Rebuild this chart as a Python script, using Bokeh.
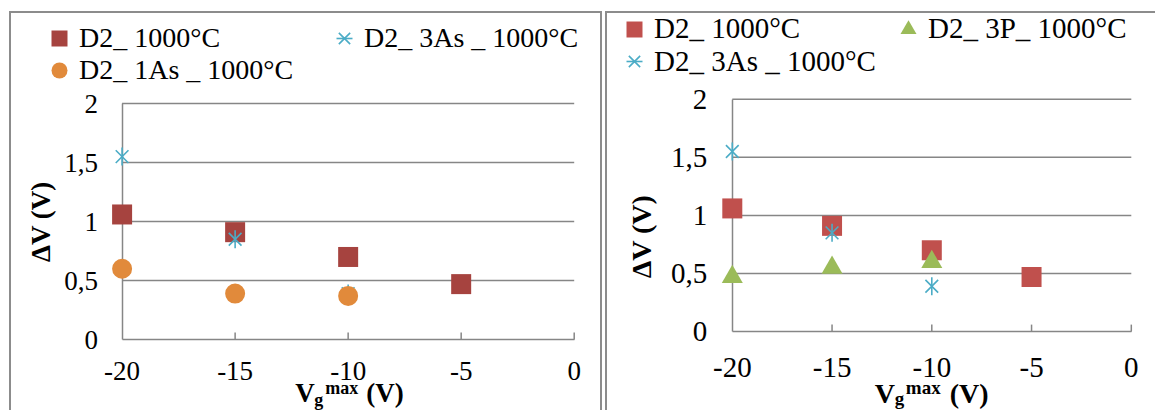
import math
from bokeh.plotting import figure
from bokeh.models import (LinearAxis, FixedTicker, Legend, LegendItem, Range1d, Spacer)
from bokeh.core.properties import value
from bokeh.layouts import row, column
from bokeh.embed import file_html
from bokeh.resources import INLINE

# ---------------- data ----------------
x_ticks = [-20, -15, -10, -5, 0]
x_tick_labels = ["-20", "-15", "-10", "-5", "0"]
y_ticks = [0, 0.5, 1, 1.5, 2]
y_tick_labels = ["0", "0,5", "1", "1,5", "2"]

vg_4 = [-20, -15, -10, -5]
vg_3 = [-20, -15, -10]

left_d2_1000 = [1.06, 0.91, 0.70, 0.47]
left_d2_3as = [1.55, 0.85, 0.39]
left_d2_1as = [0.60, 0.39, 0.37]

right_d2_1000 = [1.06, 0.91, 0.70, 0.47]
right_d2_3p = [0.47, 0.55, 0.60]
right_d2_3as = [1.55, 0.85, 0.39]

left_labels = ["D2_ 1000°C", "D2_ 3As _ 1000°C", "D2_ 1As _ 1000°C"]
right_labels = ["D2_ 1000°C", "D2_ 3P_ 1000°C", "D2_ 3As _ 1000°C"]
x_title_parts = ["V", "g", "max", "(V)"]
y_title = "ΔV (V)"

# ---------------- style ----------------
FONT = "Liberation Serif, Times New Roman, Times, serif"
GRID = "#868686"
BORDER = "#8c8c8c"
GLYPH = 40


def span_range(v0, v1, px0, px1, total):
    """Range whose values v0, v1 land on pixels px0, px1 of a frame `total` px long."""
    scale = (px1 - px0) / (v1 - v0)
    start = v0 - px0 / scale
    return Range1d(start, start + total / scale), scale


def make_panel(width, height, xpix, ypix, shadow, fs, xstand, ystand):
    # xpix: pixel (from left) of x=-20 and x=0 ; ypix: pixel (from bottom) of y=0 and y=2
    xr, _ = span_range(x_ticks[0], x_ticks[-1], xpix[0], xpix[1], width)
    yr, yscale = span_range(y_ticks[0], y_ticks[-1], ypix[0], ypix[1], height)
    p = figure(width=width, height=height, x_range=xr, y_range=yr,
               x_axis_type=None, y_axis_type=None,
               toolbar_location=None, output_backend="svg",
               min_border=0, min_border_left=0, min_border_right=0,
               min_border_top=0, min_border_bottom=0,
               outline_line_color=None,
               background_fill_alpha=0, border_fill_alpha=0)
    p.styles = {"box-shadow": shadow}

    # horizontal gridlines, from x=-20 to x=0
    n = len(y_ticks) - 1
    p.segment(x0=[x_ticks[0]] * n, x1=[x_ticks[-1]] * n, y0=y_ticks[1:], y1=y_ticks[1:],
              line_color=GRID, line_width=1.5)
    # inner tick marks on the x axis (7 px long)
    tick_len = 7 / yscale
    m = len(x_ticks) - 1
    p.segment(x0=x_ticks[1:], x1=x_ticks[1:], y0=[y_ticks[0]] * m,
              y1=[y_ticks[0] + tick_len] * m, line_color=GRID, line_width=1.5)

    axis_style = dict(axis_line_color=GRID, axis_line_width=1.5,
                      major_tick_in=0, major_tick_out=0, minor_tick_in=0, minor_tick_out=0)
    xa = LinearAxis(fixed_location=y_ticks[0], bounds=(x_ticks[0], x_ticks[-1]),
                    ticker=FixedTicker(ticks=[]), **axis_style)
    ya = LinearAxis(fixed_location=x_ticks[0], bounds=(y_ticks[0], y_ticks[-1]),
                    ticker=FixedTicker(ticks=[]), **axis_style)
    p.add_layout(xa, "below")
    p.add_layout(ya, "left")

    # tick labels placed through the data scales
    p.text(x=x_ticks, y=[y_ticks[0]] * len(x_ticks), text=x_tick_labels,
           y_offset=xstand, text_align="center", text_baseline="top",
           text_font=value(FONT), text_font_size=f"{fs}px", text_color="black")
    p.text(x=[x_ticks[0]] * len(y_ticks), y=y_ticks, text=y_tick_labels,
           x_offset=-ystand, text_align="right", text_baseline="middle",
           text_font=value(FONT), text_font_size=f"{fs}px", text_color="black")
    return p


def asterisk(p, x, y, color, size=18):
    r1 = p.scatter(x, y, marker="x", size=size, line_color=color, line_width=1.6,
                   level="overlay")
    r2 = p.scatter(x, y, marker="dash", angle=math.pi / 2, size=size,
                   line_color=color, line_width=1.6, level="overlay")
    return [r1, r2]


def titles(p, fs, y_off, x_offs):
    p.text(x=[x_ticks[0]], y=[y_ticks[2]], text=[y_title],
           x_offset=y_off[0], y_offset=y_off[1], angle=math.pi / 2,
           text_align="center", text_baseline="middle",
           text_font=value(FONT), text_font_size=f"{fs}px", text_font_style="bold",
           text_color="black")
    sizes = [fs, round(fs * 0.67), round(fs * 0.67), fs]
    for txt, (dx, dy), s in zip(x_title_parts, x_offs, sizes):
        p.text(x=[x_ticks[2]], y=[y_ticks[0]], text=[txt],
               x_offset=dx, y_offset=dy,
               text_align="left", text_baseline="top",
               text_font=value(FONT), text_font_size=f"{s}px", text_font_style="bold",
               text_color="black")


def legend_row(p, items, fs, left, center_y, label_width):
    """One legend row; `left` = px of glyph box left, `center_y` = px of row centre (from top)."""
    leg = Legend(items=items, location=(left, p.height - center_y - GLYPH / 2),
                 orientation="horizontal",
                 glyph_width=GLYPH, glyph_height=GLYPH, label_standoff=0, spacing=0,
                 label_width=label_width, padding=0, margin=0,
                 border_line_alpha=0, background_fill_alpha=0,
                 label_text_font=FONT, label_text_font_size=f"{fs}px",
                 label_text_color="black")
    p.add_layout(leg, "center")


# ---------------- left panel ----------------
FS_L, LEG_L = 27, 28
W1, H1 = 593, 399
p1 = make_panel(W1, H1, (112.6, 564.7), (H1 - 328.1, H1 - 92.0),
                f"inset 2px 0 0 0 {BORDER}, inset 0 2px 0 0 {BORDER}, inset -2px 0 0 0 {BORDER}",
                FS_L, 22, 24)
l_sq = p1.scatter(vg_4, left_d2_1000, marker="square", size=20,
                  fill_color="#A6433F", line_color=None, level="overlay")
l_as = asterisk(p1, vg_3, left_d2_3as, "#4BACC6")
l_ci = p1.scatter(vg_3, left_d2_1as, marker="circle", size=20,
                  fill_color="#E18A3B", line_color=None, level="overlay")
legend_row(p1, [LegendItem(label=left_labels[0], renderers=[l_sq]),
                LegendItem(label=left_labels[1], renderers=l_as)], LEG_L, 30, 27, 245)
legend_row(p1, [LegendItem(label=left_labels[2], renderers=[l_ci])], LEG_L, 30, 59, 245)
titles(p1, FS_L, (-81, 0),
       [(-53, 38), (-34, 50), (-23, 38), (18, 38)])

# ---------------- right panel ----------------
FS_R, LEG_R = 29, 29
W2, H2 = 550, 399
p2 = make_panel(W2, H2, (126.8, 525.8), (H2 - 320.1, H2 - 87.7),
                f"inset 2px 0 0 0 {BORDER}, inset 0 2px 0 0 {BORDER}",
                FS_R, 26, 25)
r_sq = p2.scatter(vg_4, right_d2_1000, marker="square", size=20,
                  fill_color="#C0504D", line_color=None, level="overlay")
r_tr = p2.scatter(vg_3, right_d2_3p, marker="triangle", size=21,
                  fill_color="#9BBB59", line_color=None, level="overlay")
r_as = asterisk(p2, vg_3, right_d2_3as, "#4BACC6")
legend_row(p2, [LegendItem(label=right_labels[0], renderers=[r_sq]),
                LegendItem(label=right_labels[1], renderers=[r_tr])], LEG_R, 9, 17.5, 234)
legend_row(p2, [LegendItem(label=right_labels[2], renderers=r_as)], LEG_R, 9, 50, 234)
titles(p2, 28, (-91, 21),
       [(-57, 46), (-37, 56), (-26, 45), (18, 46)])

layout = column(Spacer(height=11),
                row(Spacer(width=9), p1, Spacer(width=3), p2))

open("out.html", "w").write(file_html(layout, INLINE))
